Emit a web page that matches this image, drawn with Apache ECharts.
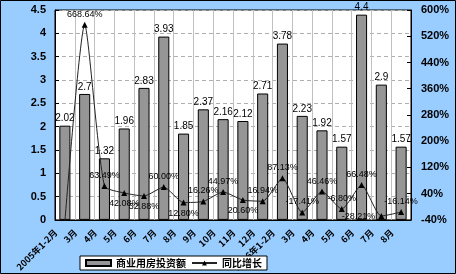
<!DOCTYPE html>
<html>
<head>
<meta charset="utf-8">
<script src="https://cdn.jsdelivr.net/npm/echarts@6/dist/echarts.min.js"></script>
<style>
  html, body { margin: 0; padding: 0; }
  #chart { width: 456px; height: 274px; }
</style>
</head>
<body>
<div id="chart"></div>
<script>
var categories = ['2005年1-2月', '3月', '4月', '5月', '6月', '7月', '8月', '9月', '10月', '11月', '12月',
  '2006年1-2月', '3月', '4月', '5月', '6月', '7月', '8月']
// 商业用房投资额（亿元）
var investment = [2.02, 2.7, 1.32, 1.96, 2.83, 3.93, 1.85, 2.37, 2.16, 2.12, 2.71, 3.78, 2.23, 1.92, 1.57, 4.4, 2.9, 1.57]
// 同比增长（%）：点在图上的位置（3月的尖峰画在约555%处，第一个点落在坐标轴下方）
var growth = [-45, 555, 63.49, 42.08, 32.88, 60.00, 12.80, 16.26, 44.97, 20.60, 16.94, 87.13, -17.41, 46.46, -6.80, 66.48, -28.21, -16.14]
// 图上标注的文字
var growthLabels = ['', '668.64%', '63.49%', '42.08%', '32.88%', '60.00%', '12.80%', '16.26%', '44.97%', '20.60%',
  '16.94%', '87.13%', '-17.41%', '46.46%', '-6.80%', '66.48%', '-28.21%', '-16.14%']
var leftTicks = { min: 0, max: 4.5, interval: 0.5 }
var rightTicks = { min: -40, max: 600, interval: 80 }

var chart = echarts.init(document.getElementById('chart'))

// 折线标签位置
var labelPos = { 1: 'top', 2: 'top', 3: 'bottom', 4: 'bottom', 5: 'top', 6: 'bottom', 7: 'top', 8: 'top',
  9: 'bottom', 10: 'top', 11: 'top', 12: 'top', 13: 'top', 14: 'top', 15: 'top', 16: 'left', 17: 'top' }

var lineData = growth.map(function(v, i) {
  if (i === 0) {
    return { value: v, symbol: 'none', label: { show: false } }
  }
  return { value: v, label: { position: labelPos[i] } }
})

var option = {
  backgroundColor: '#99CCFF',
  animation: false,
  graphic: [{
    type: 'rect',
    shape: { x: 0.5, y: 0.5, width: 455, height: 273 },
    style: { fill: 'none', stroke: '#000', lineWidth: 1 },
    z: 100
  }],
  grid: {
    left: 55,
    right: 45,
    top: 10,
    bottom: 54,
    show: true,
    backgroundColor: '#fff',
    borderColor: '#000',
    borderWidth: 1
  },
  legend: {
    left: 80,
    bottom: 4,
    backgroundColor: '#fff',
    borderColor: '#000',
    borderWidth: 1,
    borderRadius: 0,
    padding: [2, 5],
    itemGap: 5,
    itemWidth: 25,
    itemHeight: 6,
    textStyle: { fontSize: 10, color: '#000', fontWeight: 'bold', fontFamily: 'Noto Sans CJK SC' },
    data: [
      { name: '商业用房投资额', icon: 'rect' },
      { name: '同比增长' }
    ]
  },
  xAxis: {
    type: 'category',
    data: categories,
    axisLine: { lineStyle: { color: '#000' } },
    axisTick: { show: false },
    splitLine: { show: true, interval: 0, lineStyle: { color: '#c0c0c0' } },
    axisLabel: {
      interval: 0,
      rotate: 45,
      fontSize: 9,
      fontWeight: 'bold',
      color: '#000',
      margin: 2,
      padding: [0, 13, 0, 0],
      fontFamily: 'Noto Sans CJK SC'
    }
  },
  yAxis: [
    {
      type: 'value',
      min: leftTicks.min,
      max: leftTicks.max,
      interval: leftTicks.interval,
      axisLine: { show: true, lineStyle: { color: '#000' } },
      axisTick: { show: true, inside: true, length: 4, lineStyle: { color: '#000' } },
      splitLine: { show: true, lineStyle: { color: '#b0b0b0', type: [4, 3] } },
      axisLabel: { fontSize: 11, color: '#000', fontWeight: 'bold', margin: 9, fontFamily: 'Liberation Sans' }
    },
    {
      type: 'value',
      min: rightTicks.min,
      max: rightTicks.max,
      interval: rightTicks.interval,
      axisLine: { show: true, lineStyle: { color: '#000' } },
      axisTick: { show: true, inside: true, length: 4, lineStyle: { color: '#000' } },
      splitLine: { show: false },
      axisLabel: { fontSize: 11, color: '#000', fontWeight: 'bold', margin: 10, formatter: '{value}%', fontFamily: 'Liberation Sans' }
    }
  ],
  series: [
    {
      name: '商业用房投资额',
      type: 'bar',
      data: investment,
      barWidth: '56%',
      itemStyle: { color: '#969696', borderColor: '#000', borderWidth: 1 },
      label: {
        show: true,
        position: 'top',
        distance: 2,
        fontSize: 10,
        color: '#000',
        fontFamily: 'Liberation Sans'
      }
    },
    {
      name: '同比增长',
      type: 'line',
      yAxisIndex: 1,
      data: lineData,
      smooth: 0.2,
      clip: true,
      symbol: 'triangle',
      symbolSize: 6,
      color: '#000',
      lineStyle: { color: '#222', width: 1 },
      itemStyle: { color: '#000' },
      label: {
        show: true,
        fontSize: 9,
        color: '#000',
        distance: 3,
        fontFamily: 'Liberation Sans',
        formatter: function(p) {
          return growthLabels[p.dataIndex]
        }
      },
      z: 5
    }
  ]
}
chart.setOption(option)
</script>
</body>
</html>
